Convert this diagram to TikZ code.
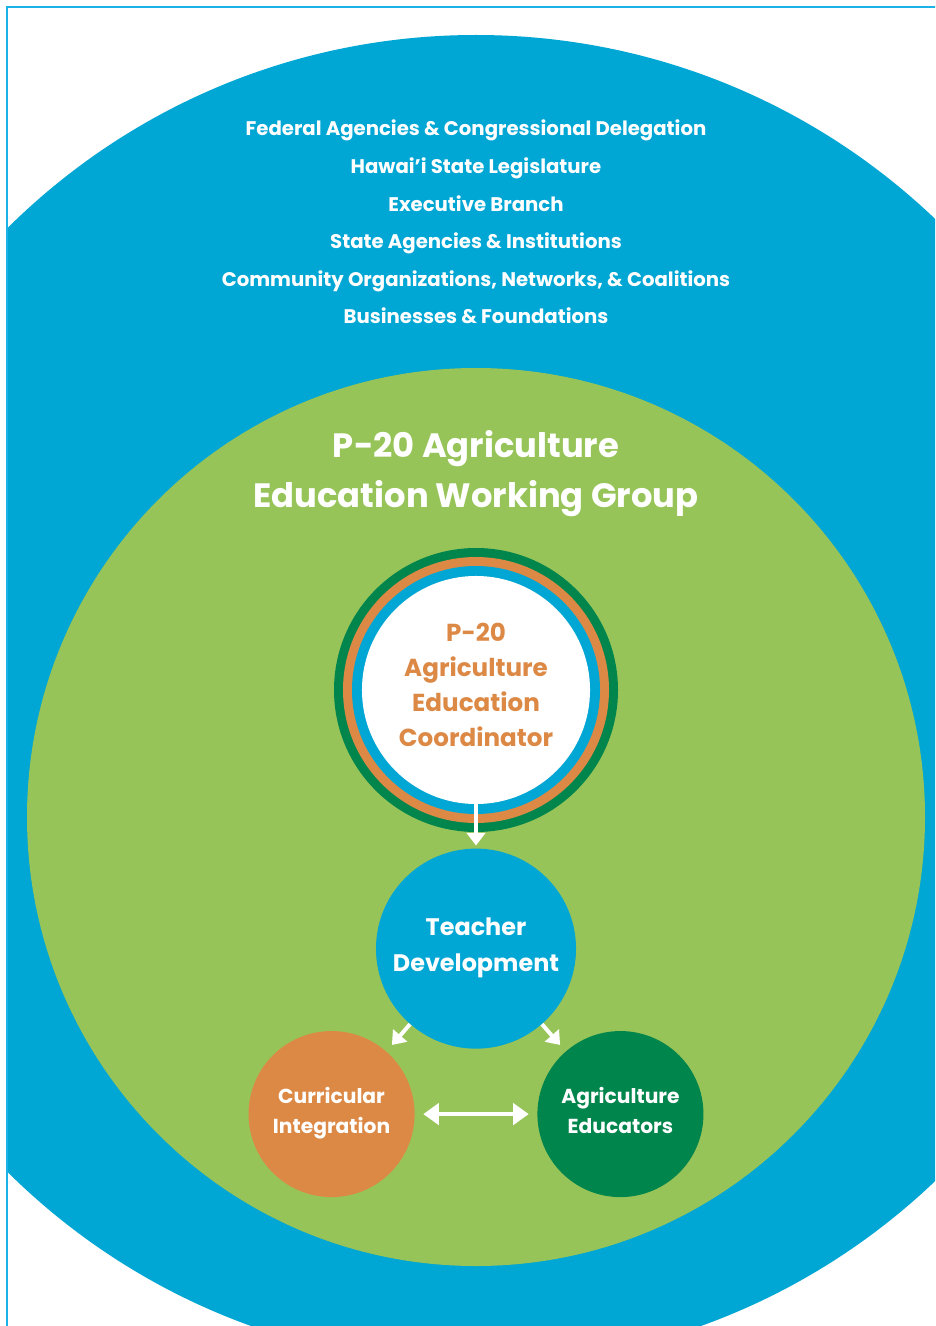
\documentclass[tikz,border=0pt]{standalone}
\usepackage{fontspec}
\setmainfont{Poppins}
\usepackage{xcolor}
\usepackage{tikz}
\usetikzlibrary{positioning,arrows.meta}

\definecolor{skyblue}{RGB}{0,166,212}
\definecolor{leafgreen}{RGB}{151,196,89}
\definecolor{forest}{RGB}{0,133,76}
\definecolor{clay}{RGB}{221,137,70}
\definecolor{edgeblue}{RGB}{28,178,232}

\begin{document}
\begin{tikzpicture}[
  x=0.025cm, y=-0.025cm,
  node distance=0.5cm,
  hub/.style={circle, inner sep=0pt, align=center, text=white},
  coordnode/.style={hub, fill=white, minimum size=5.7cm, text=clay, text depth=7pt, font=\bfseries\fontsize{17.5}{24.9}\selectfont},
  tdnode/.style={hub, fill=skyblue, minimum size=5cm, text depth=6pt, font=\bfseries\fontsize{17}{25.6}\selectfont},
  sidenode/.style={hub, minimum size=4.15cm, text depth=5pt, font=\bfseries\fontsize{14.4}{21.3}\selectfont},
  listtext/.style={align=center, text=white, font=\bfseries\fontsize{14}{26.7}\selectfont},
  titletext/.style={align=center, text=white, font=\bfseries\fontsize{24}{35.6}\selectfont},
  arr/.style={-{Triangle[length=9pt, width=13pt]}, line width=2.8pt, white},
  dblarr/.style={{Triangle[length=11pt, width=15pt]}-{Triangle[length=11pt, width=15pt]}, line width=3pt, white}
]
\useasboundingbox (0,0) rectangle (935,1326);
\clip (0,0) rectangle (935,1326);
\fill[white] (0,0) rectangle (935,1326);

% Outer rings
\begin{scope}
  \clip (7,7) rectangle (950,1340);
  \fill[skyblue] (476,700) circle (665);
\end{scope}
\draw[edgeblue, line width=1.4pt] (7,7) rectangle (950,1340);
\fill[leafgreen] (476,817) circle (449);

% Partners
\node[listtext] (partners) at (476,222) {Federal Agencies \& Congressional Delegation\\
  Hawai’i State Legislature\\
  Executive Branch\\
  State Agencies \& Institutions\\
  Community Organizations, Networks, \& Coalitions\\
  Businesses \& Foundations};

% Working group
\node[titletext] (title) at (476,474) {P-20 Agriculture\\Education Working Group};

% Coordinator
\coordinate (c0) at (476,690);
\fill[forest] (c0) circle (142);
\fill[clay] (c0) circle (133);
\fill[skyblue] (c0) circle (124);
\node[coordnode] (coord) at (c0) {P-20\\Agriculture\\Education\\Coordinator};

% Teacher development and its two branches
\node[tdnode, below=1.1cm of coord] (td) {Teacher\\Development};
\node[sidenode, fill=clay, below left=0.89cm and 0.365cm of td] (ci) {Curricular\\Integration};
\node[sidenode, fill=forest, below right=0.89cm and 0.365cm of td] (ae) {Agriculture\\Educators};

\draw[arr, shorten >=2pt] (coord) -- (td);
\draw[arr, shorten >=6pt] (td) -- (ci);
\draw[arr, shorten >=6pt] (td) -- (ae);
\draw[dblarr, shorten <=6pt, shorten >=6pt] (ci) -- (ae);
\end{tikzpicture}
\end{document}
